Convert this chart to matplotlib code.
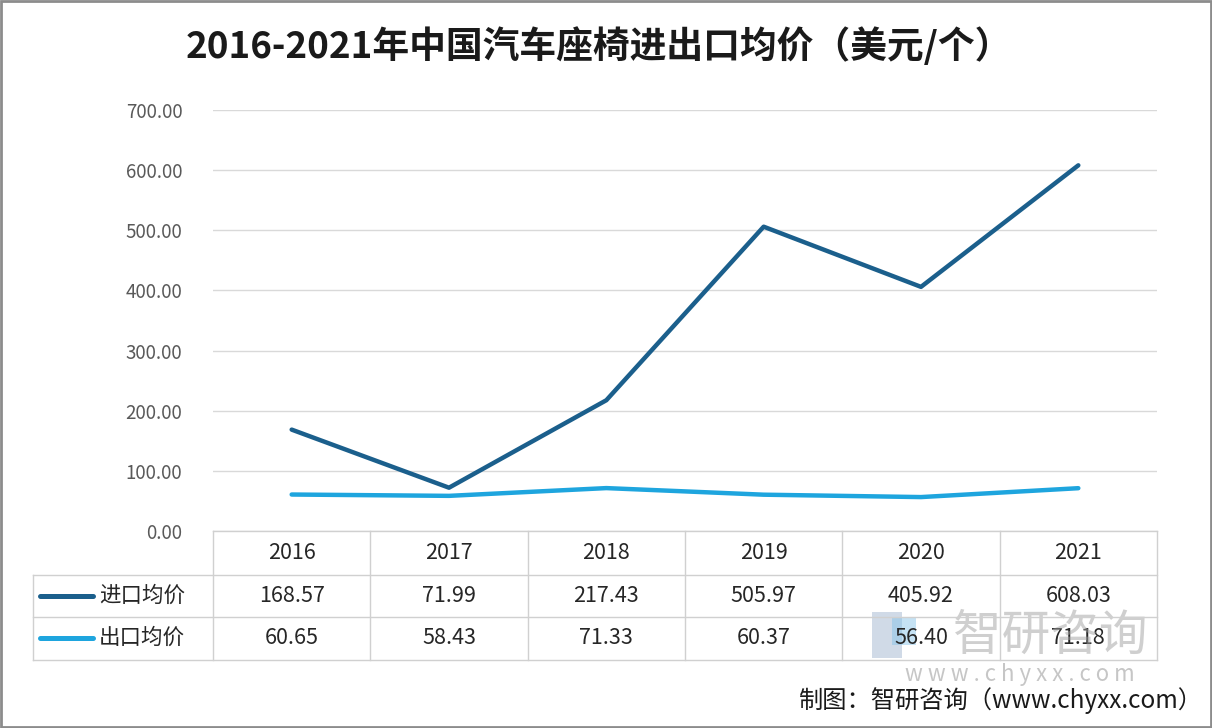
import matplotlib
matplotlib.use("Agg")
import matplotlib.pyplot as plt
import matplotlib.transforms as mtransforms
from matplotlib.patches import Rectangle
from matplotlib.lines import Line2D

plt.rcParams['font.family'] = ['Noto Sans CJK SC', 'DejaVu Sans']

years = ['2016', '2017', '2018', '2019', '2020', '2021']
import_price = [168.57, 71.99, 217.43, 505.97, 405.92, 608.03]
export_price = [60.65, 58.43, 71.33, 60.37, 56.40, 71.18]
series_names = ['进口均价', '出口均价']
colors = ['#1b5f8c', '#1ea5de']
title = '2016-2021年中国汽车座椅进出口均价（美元/个）'
source = '制图：智研咨询（www.chyxx.com）'
yticks = [0, 100, 200, 300, 400, 500, 600, 700]

W, H = 1212, 728
fig = plt.figure(figsize=(W / 100, H / 100), dpi=100)

def fx(px):
    return px / W

def fy(py):
    return 1 - py / H

ax = fig.add_axes([fx(213), fy(531), fx(1157) - fx(213), fy(110) - fy(531)])
x = list(range(len(years)))
ax.plot(x, import_price, color=colors[0], lw=3.2, solid_capstyle='round', zorder=3)
ax.plot(x, export_price, color=colors[1], lw=3.2, solid_capstyle='round', zorder=3)
ax.set_xlim(-0.5, len(years) - 0.5)
ax.set_ylim(0, 700)
ax.set_yticks(yticks)
ax.set_yticklabels([f'{v:.2f}' for v in yticks], fontsize=13.5, color='#595959')
ax.tick_params(axis='y', length=0, pad=22)
ax.set_xticks([])
ax.grid(axis='y', color='#d9d9d9', lw=1)
ax.set_axisbelow(True)
for s in ax.spines.values():
    s.set_visible(False)

# data table below the axes (x in data coords, y in pixels of figure)
trans = mtransforms.blended_transform_factory(ax.transData, fig.transFigure)
line_kw = dict(color='#d0d0d0', lw=1, transform=fig.transFigure, clip_on=False)
row_y = [531, 575, 617, 660]
fig.add_artist(Line2D([fx(213), fx(1157)], [fy(531), fy(531)], **line_kw))
for yy in row_y[1:]:
    fig.add_artist(Line2D([fx(33), fx(1157)], [fy(yy), fy(yy)], **line_kw))
fig.add_artist(Line2D([fx(33), fx(33)], [fy(575), fy(660)], **line_kw))
for i in range(len(years) + 1):
    xpix = ax.transData.transform((i - 0.5, 0))[0]
    fig.add_artist(Line2D([xpix / W, xpix / W], [fy(531), fy(660)], **line_kw))

cell_fs = 15.5
for i, yr in enumerate(years):
    ax.text(i, fy(553), yr, transform=trans, ha='center', va='center', fontsize=cell_fs, color='#262626')
    ax.text(i, fy(596), f'{import_price[i]:.2f}', transform=trans, ha='center', va='center', fontsize=cell_fs, color='#262626')
    ax.text(i, fy(638), f'{export_price[i]:.2f}', transform=trans, ha='center', va='center', fontsize=cell_fs, color='#262626')

for j, (name, c) in enumerate(zip(series_names, colors)):
    yc = fy(596 if j == 0 else 638)
    fig.add_artist(Line2D([fx(40), fx(93)], [yc, yc], color=c, lw=3.6, solid_capstyle='round'))
    fig.text(fx(99), yc, name, ha='left', va='center', fontsize=cell_fs, color='#262626')

# title
fig.text(fx(599), fy(47), title, ha='center', va='center', fontsize=26.5, fontweight='bold', color='#1a1a1a')

# watermark (logo + text overlay, as in the reference)
fig.add_artist(Rectangle((fx(872), fy(658)), fx(30), fy(612) - fy(658), transform=fig.transFigure,
                         facecolor='#8aa4c4', alpha=0.40, edgecolor='none', zorder=0))
fig.add_artist(Rectangle((fx(892), fy(645)), fx(24), fy(618) - fy(645), transform=fig.transFigure,
                         facecolor='#7fc0e8', alpha=0.45, edgecolor='none', zorder=0))
fig.text(fx(1050), fy(636), '智研咨询', ha='center', va='center', fontsize=35, color='#a0a0a0', alpha=0.5, zorder=0)
fig.text(fx(1020), fy(674), 'w w w . c h y x x . c o m', ha='center', va='center', fontsize=16, color='#a0a0a0', alpha=0.6)

# source
fig.text(fx(1203), fy(701), source, ha='right', va='center', fontsize=17.5, color='#1a1a1a')

# frame
fig.add_artist(Rectangle((0.001, 0.001), 0.998, 0.997, transform=fig.transFigure,
                         facecolor='none', edgecolor='#8c8c8c', lw=2))

fig.savefig('out.png', dpi=100, facecolor='white')
